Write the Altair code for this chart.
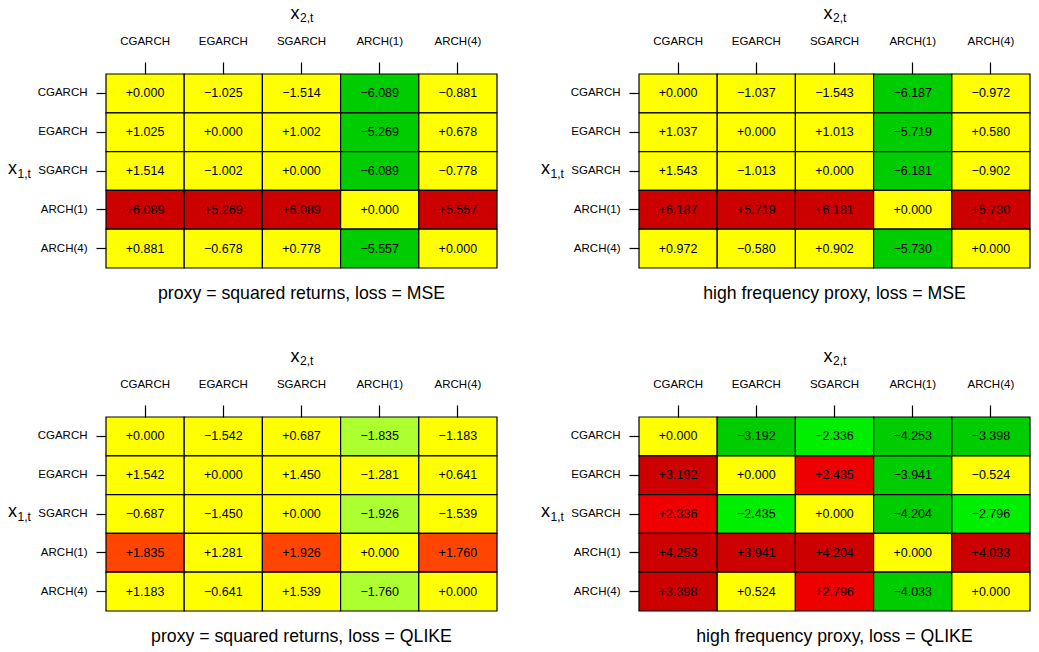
import altair as alt
import pandas as pd

FONT = "Liberation Sans"

models = ["CGARCH", "EGARCH", "SGARCH", "ARCH(1)", "ARCH(4)"]

titles = [
    "proxy = squared returns, loss = MSE",
    "high frequency proxy, loss = MSE",
    "proxy = squared returns, loss = QLIKE",
    "high frequency proxy, loss = QLIKE",
]

# rows = x1,t model, columns = x2,t model
mse_sq = [
    [0.000, -1.025, -1.514, -6.089, -0.881],
    [1.025, 0.000, 1.002, -5.269, 0.678],
    [1.514, -1.002, 0.000, -6.089, -0.778],
    [6.089, 5.269, 6.089, 0.000, 5.557],
    [0.881, -0.678, 0.778, -5.557, 0.000],
]
mse_hf = [
    [0.000, -1.037, -1.543, -6.187, -0.972],
    [1.037, 0.000, 1.013, -5.719, 0.580],
    [1.543, -1.013, 0.000, -6.181, -0.902],
    [6.187, 5.719, 6.181, 0.000, 5.730],
    [0.972, -0.580, 0.902, -5.730, 0.000],
]
qlike_sq = [
    [0.000, -1.542, 0.687, -1.835, -1.183],
    [1.542, 0.000, 1.450, -1.281, 0.641],
    [-0.687, -1.450, 0.000, -1.926, -1.539],
    [1.835, 1.281, 1.926, 0.000, 1.760],
    [1.183, -0.641, 1.539, -1.760, 0.000],
]
qlike_hf = [
    [0.000, -3.192, -2.336, -4.253, -3.398],
    [3.192, 0.000, 2.435, -3.941, -0.524],
    [2.336, -2.435, 0.000, -4.204, -2.796],
    [4.253, 3.941, 4.204, 0.000, 4.033],
    [3.398, 0.524, 2.796, -4.033, 0.000],
]

thresholds = [-3.09, -2.326, -1.645, 1.645, 2.326, 3.09]
colors = ["#00CD00", "#00EE00", "#ADFF2F", "#FFFF00", "#FF4500", "#EE0000", "#CD0000"]

W, H = 391, 194


def panel(vals, title):
    df = pd.DataFrame(
        [{"row": models[i], "col": models[j], "v": vals[i][j]} for i in range(5) for j in range(5)]
    )
    base = alt.Chart(df).encode(
        x=alt.X(
            "col:N", sort=models,
            scale=alt.Scale(paddingInner=0, paddingOuter=0),
            axis=alt.Axis(orient="top", title=None, labelAngle=0, tickSize=12, labelPadding=16),
        ),
        y=alt.Y(
            "row:N", sort=models,
            scale=alt.Scale(paddingInner=0, paddingOuter=0),
            axis=alt.Axis(orient="left", title=None, tickSize=10, labelPadding=9),
        ),
    )
    rect = base.mark_rect(stroke="black", strokeWidth=1.2).encode(
        color=alt.Color("v:Q", scale=alt.Scale(type="threshold", domain=thresholds, range=colors), legend=None)
    )
    txt = base.mark_text(fontSize=12.5, font=FONT, color="black").encode(
        text=alt.Text("v:Q", format="+.3f")
    )

    def label(s, size, x, y):
        return alt.Chart(pd.DataFrame({"t": [s]})).mark_text(
            fontSize=size, font=FONT, color="black", align="left", baseline="alphabetic"
        ).encode(text="t:N", x=alt.value(x), y=alt.value(y))

    x2 = label("x", 18, W / 2 - 11, -55)
    x2s = label("2,t", 12, W / 2 - 1.5, -52)
    x1 = label("x", 18, -98, 100)
    x1s = label("1,t", 12, -88.5, 104)
    ttl = alt.Chart(pd.DataFrame({"t": [title]})).mark_text(
        fontSize=17.7, font=FONT, color="black", align="center", baseline="alphabetic"
    ).encode(text="t:N", x=alt.value(W / 2), y=alt.value(H + 31))

    return alt.layer(rect, txt, x2, x2s, x1, x1s, ttl).properties(width=W, height=H)


chart = alt.concat(
    panel(mse_sq, titles[0]), panel(mse_hf, titles[1]),
    panel(qlike_sq, titles[2]), panel(qlike_hf, titles[3]),
    columns=2, spacing=alt.RowColnumber(row=149, column=142), bounds="flush",
).properties(
    padding={"top": -3, "left": 0, "right": 0, "bottom": 0}, background="white"
).configure_axis(
    labelFont=FONT, labelFontSize=11.5, labelColor="black", tickColor="black",
    tickWidth=1.2, domain=False, grid=False,
).configure_view(strokeWidth=0)

chart.save("out.html", embed_options={"renderer": "svg", "actions": False})
